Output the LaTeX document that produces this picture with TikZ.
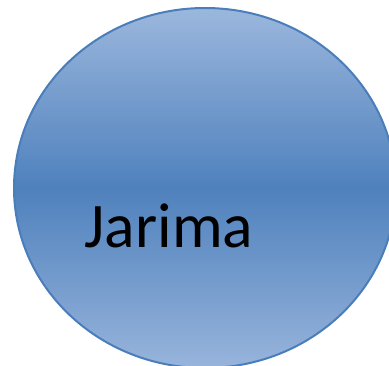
\documentclass[tikz,border=0pt]{standalone}
\usepackage{fontspec}
\setmainfont{Carlito}
\definecolor{lightblue}{HTML}{9BB7DD}
\definecolor{midblue}{HTML}{4F81BD}
\definecolor{edgeblue}{HTML}{4A7EBB}
\tikzset{
  bubble/.style={ellipse, draw=edgeblue, line width=2pt, top color=lightblue, bottom color=lightblue!95!midblue, middle color=midblue, minimum width=382pt, minimum height=360pt, inner sep=0pt},
  label/.style={font=\fontsize{63.5pt}{76pt}\selectfont, text=black, inner sep=0pt}
}
\usetikzlibrary{shapes.geometric}
\begin{document}
\begin{tikzpicture}[x=1pt,y=-1pt]
\useasboundingbox (0,0) rectangle (389,365);
\clip (0,0) rectangle (389,365);
\node[bubble] (circle) at (205,188) {};
\node[label, anchor=base] (txt) at (169,247) {Jarima};
\end{tikzpicture}
\end{document}
